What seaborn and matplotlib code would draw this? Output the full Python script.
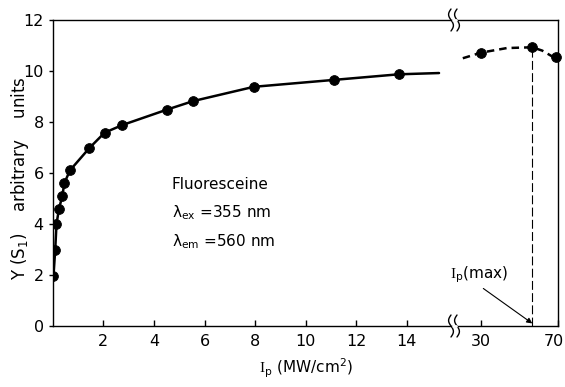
import numpy as np
import pandas as pd
import matplotlib
matplotlib.use("Agg")
import matplotlib.pyplot as plt
from matplotlib.lines import Line2D
import matplotlib.transforms as mtransforms
import seaborn as sns

# ---- data ----
ip_low = [0.03, 0.10, 0.15, 0.25, 0.38, 0.46, 0.68, 1.45, 2.05, 2.75, 4.5, 5.55, 7.95, 11.1, 13.67]
y_low = [1.95, 3.0, 4.0, 4.6, 5.1, 5.6, 6.1, 6.98, 7.58, 7.88, 8.48, 8.82, 9.38, 9.65, 9.87]
curve_low_x = [0.0] + ip_low + [15.27]
curve_low_y = [1.7] + y_low + [9.92]

ip_high = [30.0, 56.8, 69.0]
y_high = [10.72, 10.93, 10.54]
curve_high_x = [20.4, 30.0, 43.5, 56.8, 62.0, 70.0]
curve_high_y = [10.5, 10.72, 10.9, 10.93, 10.8, 10.45]
ip_max = 56.8

yticks = [0, 2, 4, 6, 8, 10, 12]
xticks_low = [2, 4, 6, 8, 10, 12, 14]
xticks_high = [30, 70]

sns.set_style("ticks")
plt.rcParams['font.family'] = ['DejaVu Sans']
plt.rcParams['text.color'] = 'black'
plt.rcParams['xtick.color'] = 'black'
plt.rcParams['ytick.color'] = 'black'
plt.rcParams['mathtext.fontset'] = 'custom'
plt.rcParams['mathtext.rm'] = 'Liberation Serif'
plt.rcParams['mathtext.sf'] = 'DejaVu Sans'

W, H = 565, 387
fig = plt.figure(figsize=(W / 100, H / 100), dpi=100)

def px2fig(x, y):
    return x / W, 1 - y / H

L, R, T, B, BRK = 52.7, 557.5, 20, 326, 455
ax1 = fig.add_axes([L / W, 1 - B / H, (BRK - L) / W, (B - T) / H])
ax2 = fig.add_axes([BRK / W, 1 - B / H, (R - BRK) / W, (B - T) / H])

lw = 1.8
df_low = pd.DataFrame({"x": curve_low_x, "y": curve_low_y})
sns.lineplot(data=df_low, x="x", y="y", ax=ax1, color="black", lw=lw, sort=False)
sns.scatterplot(x=ip_low, y=y_low, ax=ax1, color="black", s=50, edgecolor="black", zorder=5)

df_high = pd.DataFrame({"x": curve_high_x, "y": curve_high_y})
sns.lineplot(data=df_high, x="x", y="y", ax=ax2, color="black", lw=lw, sort=False, linestyle=(0, (3, 2)))
sns.scatterplot(x=ip_high, y=y_high, ax=ax2, color="black", s=50, edgecolor="black", zorder=5, clip_on=False)
ax2.plot([ip_max, ip_max], [0, y_high[1]], color="black", lw=0.8, linestyle=(0, (8, 3)))

ax1.set_xlim(0, (BRK - L) / 25.3)
ax2.set_xlim(30 - (481 - BRK) / 1.9, 70)
for ax in (ax1, ax2):
    ax.set_ylim(0, 12)
    ax.set_xlabel("")
    ax.set_ylabel("")
    for s in ax.spines.values():
        s.set_linewidth(1.0)
        s.set_color("black")
    ax.tick_params(axis="x", direction="in", length=4, width=1, labelsize=11.5, pad=6)
    ax.tick_params(axis="y", direction="out", length=3, width=1, labelsize=11.5)

ax1.spines["right"].set_visible(False)
ax2.spines["left"].set_visible(False)
ax1.set_yticks(yticks)
ax1.set_xticks(xticks_low)
ax1.set_xticklabels([str(v) for v in xticks_low])
ax2.set_yticks([])
ax2.set_xticks(xticks_high)
ax2.set_xticklabels([str(v) for v in xticks_high])
lab70 = ax2.get_xticklabels()[-1]
lab70.set_transform(lab70.get_transform() + mtransforms.ScaledTranslation(-4 / 100, 0, fig.dpi_scale_trans))

# break marks
t = np.linspace(-1, 1, 30)
for yc in (T, B):
    for xc in (451, 457):
        xs = xc + 2.4 * np.sin(t * np.pi)
        ys = yc + 11 * t
        fx, fy = px2fig(xs, ys)
        fig.add_artist(Line2D(fx, fy, color="black", lw=1.0))
    gx, gy = px2fig(np.array([452.5, 455.5]), np.array([yc, yc]))
    fig.add_artist(Line2D(gx, gy, color="white", lw=2.0))

ax1.text(4.7, 5.55, "Fluoresceine", fontsize=11, va="center")
ax1.text(4.7, 4.45, "λ$_{\\mathsf{ex}}$ =355 nm", fontsize=11, va="center")
ax1.text(4.7, 3.3, "λ$_{\\mathsf{em}}$ =560 nm", fontsize=11, va="center")

ax2.annotate("$\\mathrm{I}_{\\mathsf{p}}$(max)", xy=(ip_max, 0.1), xytext=(13.5, 1.6),
             fontsize=11, ha="left", va="bottom", annotation_clip=False,
             arrowprops=dict(arrowstyle="-|>", color="black", lw=0.8, mutation_scale=8,
                             shrinkA=0, shrinkB=0, relpos=(0.5, 0)),
             textcoords="data")

fx, fy = px2fig(20, 178)
fig.text(fx, fy, "Y (S$_{\\mathsf{1}}$)    arbitrary    units", rotation=90, fontsize=12,
         ha="center", va="center")
fx, fy = px2fig(306, 368)
fig.text(fx, fy, "$\\mathrm{I}_{\\mathsf{p}}$ (MW/cm$^{\\mathsf{2}}$)", fontsize=11,
         ha="center", va="center")

fig.savefig("out.png", dpi=100)
